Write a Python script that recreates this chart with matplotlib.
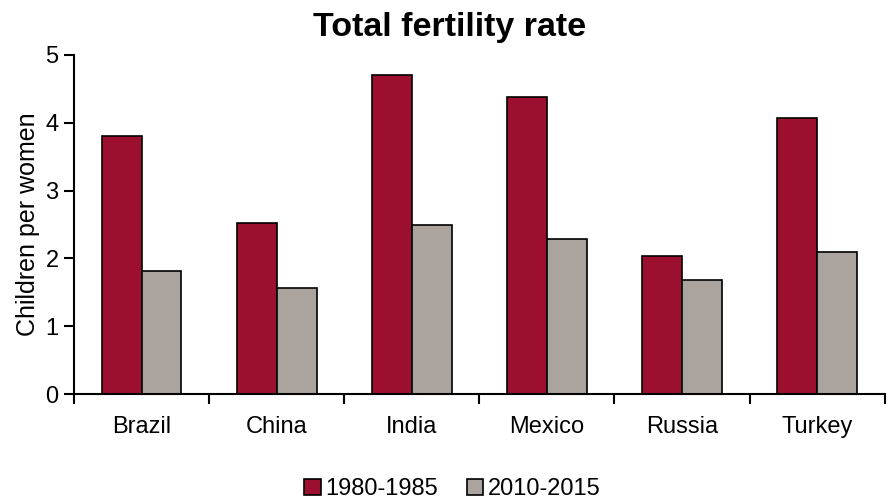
import numpy as np
import matplotlib
matplotlib.use("Agg")
import matplotlib.pyplot as plt

countries = ["Brazil", "China", "India", "Mexico", "Russia", "Turkey"]
rate_1980 = [3.80, 2.53, 4.70, 4.38, 2.04, 4.07]
rate_2010 = [1.82, 1.56, 2.49, 2.29, 1.68, 2.10]
periods = ["1980-1985", "2010-2015"]

plt.rcParams["font.family"] = ["Liberation Sans", "DejaVu Sans"]

fig = plt.figure(figsize=(8.91, 4.99), dpi=100)
ax = fig.add_axes([0.083, 0.21, 0.91, 0.68])

x = np.arange(len(countries))
w = 0.295
ax.bar(x - w / 2, rate_1980, w, color="#9C0F2F", edgecolor="black", linewidth=1.2, label=periods[0])
ax.bar(x + w / 2, rate_2010, w, color="#ABA39D", edgecolor="black", linewidth=1.2, label=periods[1])

ax.set_xlim(-0.5, len(countries) - 0.5)
ax.set_ylim(0, 5)
ax.set_yticks(range(6))
ax.set_xticks(np.arange(-0.5, len(countries), 1.0))
ax.set_xticklabels([])
ax.set_xticks(x, minor=True)
ax.set_xticklabels(countries, minor=True)
ax.tick_params(axis="x", which="minor", length=0, pad=16, labelsize=17)
ax.tick_params(axis="x", which="major", length=7, width=1.5, direction="out")
ax.tick_params(axis="y", length=7, width=1.5, labelsize=17, pad=4)

for s in ["top", "right"]:
    ax.spines[s].set_visible(False)
for s in ["left", "bottom"]:
    ax.spines[s].set_linewidth(1.5)

ax.set_ylabel("Children per women", fontsize=18, labelpad=4)
fig.suptitle("Total fertility rate", x=0.505, y=0.975, fontsize=24.5, fontweight="bold")

fig.legend(loc="lower center", bbox_to_anchor=(0.508, -0.045), ncol=2, frameon=False,
           fontsize=17, handlelength=0.7, handleheight=0.7, handletextpad=0.2, columnspacing=1.2)

fig.savefig("out.png", dpi=100)
